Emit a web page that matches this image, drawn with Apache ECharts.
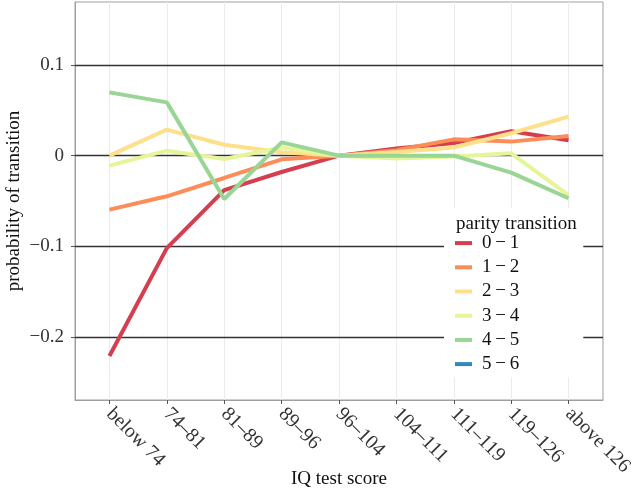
<!DOCTYPE html>
<html>
<head>
<meta charset="utf-8">
<script src="https://cdn.jsdelivr.net/npm/echarts@6/dist/echarts.min.js"></script>
<style>html,body{margin:0;padding:0;background:#fff;}#chart{width:631px;height:492px;}</style>
</head>
<body>
<div id="chart"></div>
<script>
var categories = ['below 74', '74\u201381', '81\u201389', '89\u201396', '96\u2013104', '104\u2013111', '111\u2013119', '119\u2013126', 'above 126'];
var seriesNames = ['0\u2009\u2212\u20091', '1\u2009\u2212\u20092', '2\u2009\u2212\u20093', '3\u2009\u2212\u20094', '4\u2009\u2212\u20095', '5\u2009\u2212\u20096'];
var values01 = [-0.221, -0.102, -0.038, -0.018, 0, 0.008, 0.014, 0.027, 0.017];
var values12 = [-0.0595, -0.0448, -0.0246, -0.004, 0, 0.006, 0.018, 0.0155, 0.0217];
var values23 = [0.0, 0.0287, 0.012, 0.0037, 0, 0.004, 0.009, 0.0247, 0.043];
var values34 = [-0.011, 0.0055, -0.0037, 0.009, 0, -0.003, -0.001, 0.0026, -0.0434];
var values45 = [0.0698, 0.0588, -0.0478, 0.0147, 0, 0.0, 0.0, -0.0187, -0.047];
var values56 = [null, null, null, null, null, null, null, null, null];
var yTickValues = [-0.2, -0.1, 0, 0.1];
var colors = ['#D53E4F', '#FC8D59', '#FEE08B', '#E6F598', '#99D594', '#3288BD'];

var allValues = [values01, values12, values23, values34, values45, values56];
var serif = 'Liberation Serif';

function pairs(vals) {
  return categories.map(function (c, i) { return [i, vals[i]]; });
}
function fmtY(v) {
  if (Math.abs(v) < 1e-9) return '0';
  var s = Math.abs(v).toFixed(1);
  return (v < 0 ? '\u2212' : '') + s;
}

var series = [{
  name: 'hlines',
  type: 'line',
  data: [],
  z: 1,
  silent: true,
  markLine: {
    z: 1,
    silent: true,
    symbol: ['none', 'none'],
    label: { show: false },
    lineStyle: { color: '#333333', width: 1.3, type: 'solid' },
    data: yTickValues.map(function (v) { return { yAxis: v }; })
  }
}];
allValues.forEach(function (vals, k) {
  series.push({
    name: seriesNames[k],
    type: 'line',
    data: pairs(vals),
    z: 2,
    showSymbol: false,
    symbol: 'none',
    connectNulls: false,
    color: colors[k],
    lineStyle: { color: colors[k], width: 4 },
    itemStyle: { color: colors[k] }
  });
});

var chart = echarts.init(document.getElementById('chart'), null, { renderer: 'canvas' });
chart.setOption({
  animation: false,
  backgroundColor: '#ffffff',
  grid: {
    left: 75, right: 28, top: 2, bottom: 92,
    outerBoundsMode: 'none',
    containLabel: false,
    show: true, borderColor: '#a0a0a0', borderWidth: 1, backgroundColor: 'transparent'
  },
  title: {
    text: 'parity transition',
    left: 456, top: 213, padding: 0, z: 10,
    textStyle: { fontFamily: serif, fontSize: 19, fontWeight: 'normal', color: '#111', lineHeight: 22 }
  },
  legend: {
    data: seriesNames,
    orient: 'vertical',
    left: 444, top: 208,
    z: 5,
    padding: [23, 64, 1, 11],
    backgroundColor: '#ffffff',
    itemGap: 0,
    itemWidth: 17,
    itemHeight: 4,
    icon: 'rect',
    selectedMode: false,
    textStyle: { fontFamily: serif, fontSize: 19, color: '#111', lineHeight: 24.2, padding: [0, 0, 0, 5] }
  },
  xAxis: {
    type: 'value',
    min: -0.6, max: 8.6,
    minInterval: 1, maxInterval: 1,
    name: 'IQ test score',
    nameLocation: 'middle',
    nameGap: 70,
    nameMoveOverlap: false,
    nameTextStyle: { fontFamily: serif, fontSize: 19, color: '#111' },
    axisLine: { show: true, onZero: false, lineStyle: { color: '#a0a0a0', width: 1 } },
    axisTick: { show: true, length: 4, lineStyle: { color: '#555' }, customValues: categories.map(function (c, i) { return i; }) },
    axisLabel: {
      show: true, rotate: -45, margin: 11,
      fontFamily: serif, fontSize: 20, color: '#333',
      customValues: categories.map(function (c, i) { return i; }),
      formatter: function (v) { return categories[Math.round(v)] || ''; }
    },
    splitLine: { show: true, lineStyle: { color: '#ebebeb', width: 1 } }
  },
  yAxis: {
    type: 'value',
    min: -0.2695, max: 0.1695,
    minInterval: 0.05, maxInterval: 0.05,
    name: 'probability of transition',
    nameLocation: 'middle',
    nameGap: 51,
    nameMoveOverlap: false,
    nameRotate: 90,
    nameTextStyle: { fontFamily: serif, fontSize: 19, color: '#111' },
    axisLine: { show: true, onZero: false, lineStyle: { color: '#a0a0a0', width: 1 } },
    axisTick: { show: true, length: 4, lineStyle: { color: '#555' }, customValues: yTickValues },
    axisLabel: {
      show: true, margin: 11,
      fontFamily: serif, fontSize: 19, color: '#333',
      customValues: yTickValues,
      formatter: fmtY
    },
    splitLine: { show: true, lineStyle: { color: '#f0f0f0', width: 1 } }
  },
  series: series
});
</script>
</body>
</html>
